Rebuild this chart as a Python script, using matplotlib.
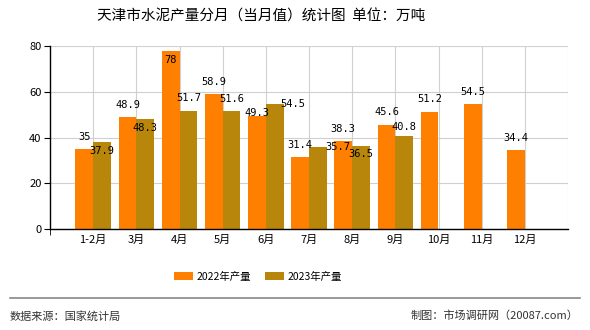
import numpy as np
import matplotlib.pyplot as plt

plt.rcParams['font.family'] = ['Noto Sans CJK SC', 'DejaVu Sans']

# 数据
months = ['1-2月', '3月', '4月', '5月', '6月', '7月', '8月', '9月', '10月', '11月', '12月']
y2022 = [35, 48.9, 78, 58.9, 49.3, 31.4, 38.3, 45.6, 51.2, 54.5, 34.4]
y2023 = [37.9, 48.3, 51.7, 51.6, 54.5, 35.7, 36.5, 40.8]

# 标签偏移 (像素, 相对柱顶), 模仿原图的避让
off2022 = [(0, 12), (0, 12), (0, -9), (0, 12), (0, 3), (0, 12), (0, 12), (0, 13), (0, 13), (0, 12), (0, 12)]
off2023 = [(0, -9), (0, -9), (0, 13), (0, 12), (18, 0), (20, 0), (0, -8), (0, 9)]

c22 = '#FF8000'
c23 = '#B8860B'
w = 0.41

fig = plt.figure(figsize=(5.9, 3.3), dpi=100)
ax = fig.add_axes([50 / 590, 1 - 229 / 330, 518 / 590, 183 / 330])

x22 = np.arange(1, len(y2022) + 1)
x23 = np.arange(1, len(y2023) + 1)
ax.bar(x22 - w / 2, y2022, width=w, color=c22, zorder=2, label='2022年产量')
ax.bar(x23 + w / 2, y2023, width=w, color=c23, zorder=2, label='2023年产量')

for xi, v, (dx, dy) in zip(x22 - w / 2, y2022, off2022):
    ax.annotate(f'{v:g}', (xi, v), xytext=(dx * 0.72, dy * 0.72), textcoords='offset points',
                ha='center', va='center', fontsize=7.5, family='DejaVu Sans Mono', zorder=3)
for xi, v, (dx, dy) in zip(x23 + w / 2, y2023, off2023):
    ax.annotate(f'{v:g}', (xi, v), xytext=(dx * 0.72, dy * 0.72), textcoords='offset points',
                ha='center', va='center', fontsize=7.5, family='DejaVu Sans Mono', zorder=3)

ax.set_xlim(0, 12)
ax.set_ylim(0, 80)
ax.set_yticks([0, 20, 40, 60, 80])
ax.set_xticks(np.arange(1, 13))
ax.set_xticklabels(months + [''])
ax.tick_params(axis='x', length=0, labelsize=8, pad=4)
ax.tick_params(axis='y', length=4, labelsize=8, pad=2)
ax.set_xticks([0, 3, 6, 9, 12], minor=True)
ax.tick_params(axis='x', which='minor', length=4, direction='out')
ax.grid(True, color='#d0d0d0', linewidth=0.8, zorder=0)
ax.set_axisbelow(True)
for s in ['top', 'right']:
    ax.spines[s].set_visible(False)
for s in ['left', 'bottom']:
    ax.spines[s].set_linewidth(1.0)
    ax.spines[s].set_zorder(4)

fig.text(261 / 590, 1 - 17 / 330, '天津市水泥产量分月（当月值）统计图  单位：万吨',
         ha='center', va='center', fontsize=10.5)

fig.legend(loc='center', bbox_to_anchor=(258 / 590, 1 - 277 / 330), ncol=2, frameon=False,
           fontsize=7.5, handlelength=1.8, handleheight=0.8, columnspacing=1.4, handletextpad=0.3)

fig.add_artist(plt.Line2D([10 / 590, 580 / 590], [1 - 298 / 330] * 2, color='#888888', linewidth=1.2))
fig.text(10 / 590, 1 - 316 / 330, '数据来源：国家统计局', ha='left', va='center', fontsize=8, color='#333333')
fig.text(578 / 590, 1 - 316 / 330, '制图：市场调研网（20087.com）', ha='right', va='center', fontsize=8, color='#333333')

fig.savefig('out.png', dpi=100)
